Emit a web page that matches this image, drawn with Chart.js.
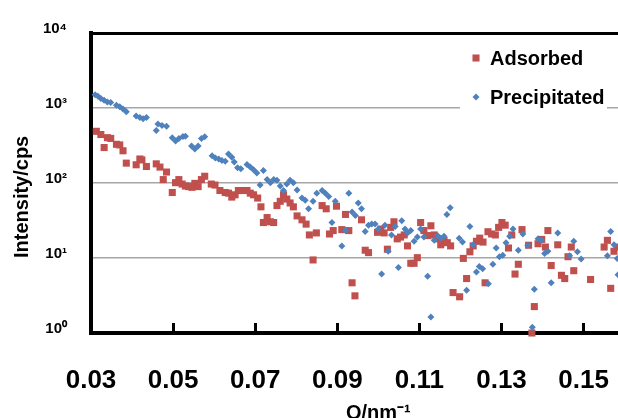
<!DOCTYPE html>
<html>
<head>
<meta charset="utf-8">
<script src="https://cdn.jsdelivr.net/npm/chart.js@4.4.1/dist/chart.umd.min.js"></script>
<style>
  html, body { margin: 0; padding: 0; background: #fff; overflow: hidden; }
  canvas { display: block; }
</style>
</head>
<body>
<canvas id="chart" width="733" height="430"></canvas>
<script>
// valeurs : Q en nm-1, intensité en cps
const qAdsorbed = [
  0.0313, 0.0324, 0.0332, 0.0340, 0.0348, 0.0362, 0.0370, 0.0378, 0.0386, 0.0410,
  0.0419, 0.0424, 0.0435, 0.0459, 0.0468, 0.0476, 0.0484, 0.0498, 0.0506, 0.0514,
  0.0522, 0.0530, 0.0538, 0.0546, 0.0553, 0.0561, 0.0569, 0.0577, 0.0593, 0.0602, 0.0614,
  0.0627, 0.0635, 0.0643, 0.0651, 0.0659, 0.0668, 0.0680, 0.0688, 0.0696, 0.0706,
  0.0714, 0.0720, 0.0729, 0.0737, 0.0745, 0.0753, 0.0761, 0.0769, 0.0777, 0.0785,
  0.0793, 0.0802, 0.0814, 0.0824, 0.0832, 0.0841, 0.0849, 0.0863, 0.0873, 0.0881,
  0.0890, 0.0898, 0.0911, 0.0920, 0.0928, 0.0936, 0.0943, 0.0959, 0.0968, 0.0976,
  0.0998, 0.1006, 0.1014, 0.1022, 0.1030, 0.1038, 0.1046, 0.1054, 0.1063, 0.1071,
  0.1079, 0.1087, 0.1095, 0.1103, 0.1111, 0.1120, 0.1128, 0.1136, 0.1144, 0.1152,
  0.1160, 0.1168, 0.1176, 0.1182, 0.1198, 0.1207, 0.1215, 0.1223, 0.1231, 0.1239,
  0.1247, 0.1255, 0.1260, 0.1267, 0.1276, 0.1285, 0.1293, 0.1301, 0.1309, 0.1317,
  0.1325, 0.1333, 0.1341, 0.1350, 0.1366, 0.1374, 0.1380, 0.1389, 0.1398, 0.1407,
  0.1413, 0.1421, 0.1437, 0.1446, 0.1454, 0.1462, 0.1470, 0.1476, 0.1517, 0.1550,
  0.1558, 0.1566, 0.1574, 0.1582
];
const iAdsorbed = [
  489, 443, 297, 402, 393, 328, 322, 269, 184, 175,
  209, 203, 166, 180, 163, 111, 140, 74.7, 101, 111,
  96.8, 91.1, 89.5, 87.6, 98.8, 89.5, 111, 123, 96.8, 93.9, 79.4,
  74.7, 73.2, 64.9, 69.6, 79.4, 79.4, 79.4, 73.2, 69.6, 63.0,
  48.1, 29.7, 34.6, 30.4, 29.7, 50.0, 57.0, 69.6, 61.1, 54.2,
  48.1, 36.4, 32.3, 28.3, 20.3, 9.42, 21.6, 50.0, 45.3, 20.9,
  23.2, 49.1, 23.9, 38.1, 23.2, 4.67, 3.13, 32.3, 12.7, 11.8,
  22.0, 24.3, 21.6, 13.1, 25.6, 30.4, 18.0, 19.0, 20.3, 14.5,
  8.50, 8.50, 10.1, 29.7, 23.2, 19.9, 26.9, 20.3, 18.0, 15.0,
  17.2, 16.0, 14.5, 3.46, 3.04, 9.88, 5.32, 12.1, 14.5, 16.7,
  18.4, 16.3, 4.67, 22.4, 20.9, 20.3, 25.6, 29.7, 27.4, 13.6,
  20.3, 6.11, 8.25, 23.9, 14.8, 1.0, 2.25, 15.5, 17.7, 14.0,
  23.2, 7.94, 15.0, 5.88, 5.32, 10.4, 14.0, 6.77, 5.17, 14.0,
  17.2, 3.94, 12.3, 14.0
];
const qPrecipitated = [
  0.0310, 0.0317, 0.0324, 0.0332, 0.0340, 0.0348, 0.0362, 0.0370, 0.0378, 0.0386,
  0.0410, 0.0419, 0.0427, 0.0435, 0.0459, 0.0463, 0.0473, 0.0484, 0.0498, 0.0506,
  0.0514, 0.0524, 0.0530, 0.0545, 0.0553, 0.0561, 0.0569, 0.0577, 0.0595, 0.0603,
  0.0611, 0.0619, 0.0627, 0.0635, 0.0643, 0.0649, 0.0657, 0.0665, 0.0680, 0.0688,
  0.0696, 0.0704, 0.0712, 0.0720, 0.0729, 0.0737, 0.0745, 0.0753, 0.0761, 0.0769,
  0.0777, 0.0785, 0.0793, 0.0802, 0.0814, 0.0822, 0.0830, 0.0841, 0.0850, 0.0863,
  0.0871, 0.0879, 0.0887, 0.0895, 0.0911, 0.0920, 0.0928, 0.0936, 0.0944, 0.0951,
  0.0959, 0.0968, 0.0976, 0.0984, 0.0992, 0.1000, 0.1008, 0.1016, 0.1024, 0.1032,
  0.1041, 0.1049, 0.1057, 0.1065, 0.1071, 0.1079, 0.1087, 0.1095, 0.1103, 0.1111,
  0.1120, 0.1128, 0.1136, 0.1144, 0.1152, 0.1160, 0.1167, 0.1175, 0.1197, 0.1205,
  0.1215, 0.1223, 0.1231, 0.1239, 0.1246, 0.1254, 0.1268, 0.1279, 0.1287, 0.1295,
  0.1303, 0.1311, 0.1320, 0.1328, 0.1341, 0.1352, 0.1364, 0.1375, 0.1380, 0.1389,
  0.1397, 0.1405, 0.1413, 0.1421, 0.1437, 0.1466, 0.1476, 0.1485, 0.1494, 0.1558,
  0.1566, 0.1574, 0.1582, 0.1584
];
const iPrecipitated = [
  1500, 1430, 1334, 1268, 1205, 1183, 1091, 1037, 968, 892,
  784, 745, 717, 745, 500, 611, 586, 569, 402, 363,
  393, 418, 421, 312, 283, 312, 393, 414, 231, 216,
  209, 199, 195, 243, 220, 190, 160, 155, 176, 163,
  150, 136, 93.9, 147, 111, 101, 111, 109, 91.1, 79.4,
  96.8, 109, 101, 80.8, 63.0, 58.8, 45.3, 57.0, 73.2, 79.4,
  73.2, 66.3, 29.7, 57.0, 14.5, 23.2, 73.2, 41.0, 37.0, 54.2,
  45.3, 22.5, 27.4, 28.3, 28.3, 24.3, 6.11, 27.4, 12.3, 20.3,
  26.4, 7.47, 31.3, 24.3, 21.6, 23.2, 16.7, 19.0, 24.3, 19.0,
  5.70, 1.63, 17.2, 19.9, 18.4, 19.5, 38.1, 46.7, 18.4, 16.3,
  3.71, 26.4, 15.0, 6.49, 7.70, 7.19, 4.53, 8.25, 13.6, 10.4,
  10.9, 16.0, 19.5, 24.3, 12.7, 20.9, 14.8, 1.19, 3.83, 18.0,
  17.2, 11.5, 12.3, 4.67, 21.6, 10.7, 16.7, 12.1, 9.70, 10.7,
  22.5, 15.0, 9.88, 6.00
];

const seriesNames = ['Adsorbed', 'Precipitated'];
const xTicks = [0.03, 0.05, 0.07, 0.09, 0.11, 0.13, 0.15, 0.17];
const yTicks = [1, 10, 100, 1000, 10000];
const yTickLabels = ['10⁰', '10¹', '10²', '10³', '10⁴'];

const FONT = "'Liberation Sans', Arial, sans-serif";
Chart.defaults.font.family = FONT;
Chart.defaults.color = '#000';

const RED = '#C0504D';
const BLUE = '#4F81BD';

function toPoints(q, i) {
    return q.map((v, k) => ({ x: v, y: i[k] }));
}

// légende dans la zone de tracé, sur fond blanc (cache la grille)
const legendInside = {
    id: 'legendInside',
    beforeDatasetsDraw(chart) {
        const { ctx, chartArea } = chart;
        const x0 = chartArea.left + 385;
        ctx.save();
        ctx.fillStyle = '#fff';
        ctx.fillRect(chartArea.left + 369, 40, 147, 70);
        ctx.font = 'bold 20px ' + FONT;
        ctx.textBaseline = 'middle';
        chart.data.datasets.forEach((ds, k) => {
            const y = [58, 97][k];
            ctx.fillStyle = ds.pointBackgroundColor;
            Chart.helpers.drawPoint(ctx, {
                pointStyle: ds.pointStyle,
                radius: ds.pointRadius,
                rotation: 0,
                borderWidth: 0
            }, x0, y);
            ctx.fillStyle = '#000';
            ctx.fillText(ds.label, x0 + 14, y + 1);
        });
        ctx.restore();
    }
};

new Chart(document.getElementById('chart'), {
    type: 'scatter',
    data: {
        datasets: [
            {
                label: seriesNames[0],
                data: toPoints(qAdsorbed, iAdsorbed),
                pointStyle: 'rect',
                pointRadius: 5,
                pointBackgroundColor: RED,
                backgroundColor: RED,
                pointBorderWidth: 0,
                order: 1,
                clip: false
            },
            {
                label: seriesNames[1],
                data: toPoints(qPrecipitated, iPrecipitated),
                pointStyle: 'rectRot',
                pointRadius: 3.5,
                pointBackgroundColor: BLUE,
                backgroundColor: BLUE,
                pointBorderWidth: 0,
                order: 0,
                clip: false
            }
        ]
    },
    options: {
        responsive: false,
        animation: false,
        events: [],
        layout: { padding: { top: 26, right: 0, left: 0, bottom: 0 } },
        plugins: {
            legend: { display: false },
            tooltip: { enabled: false }
        },
        scales: {
            x: {
                type: 'linear',
                position: 'bottom',
                min: 0.03,
                max: 0.17,
                afterBuildTicks: s => { s.ticks = xTicks.map(v => ({ value: v })); },
                afterFit: s => { s.height = 97; },
                grid: { drawOnChartArea: false, drawTicks: true, tickLength: -10, tickColor: '#000', tickWidth: 3 },
                border: { color: '#000', width: 4 },
                ticks: {
                    font: { size: 26, weight: 'bold' },
                    padding: 42,
                    maxRotation: 0,
                    autoSkip: false,
                    callback: v => v.toFixed(2)
                },
                title: {
                    display: true,
                    text: 'Q/nm⁻¹',
                    font: { size: 20, weight: 'bold' },
                    padding: { top: 0, bottom: 5 }
                }
            },
            xTop: {
                type: 'linear',
                position: 'top',
                min: 0,
                max: 1,
                afterFit: s => { s.height = 0; },
                grid: { display: false, drawTicks: false },
                border: { display: true, color: '#000', width: 3 },
                ticks: { display: false }
            },
            y: {
                type: 'logarithmic',
                position: 'left',
                min: 1,
                max: 10000,
                afterBuildTicks: s => { s.ticks = yTicks.map(v => ({ value: v })); },
                afterFit: s => { s.width = 91; },
                grid: { color: '#a6a6a6', lineWidth: 1.5, drawTicks: false },
                border: { color: '#000', width: 4 },
                ticks: {
                    font: { size: 15, weight: 'bold' },
                    padding: 24,
                    labelOffset: -4,
                    callback: (v, k) => yTickLabels[k]
                },
                title: {
                    display: true,
                    text: 'Intensity/cps     ',
                    font: { size: 20, weight: 'bold' },
                    padding: { top: 10, bottom: 0 }
                }
            }
        }
    },
    plugins: [legendInside]
});
</script>
</body>
</html>
